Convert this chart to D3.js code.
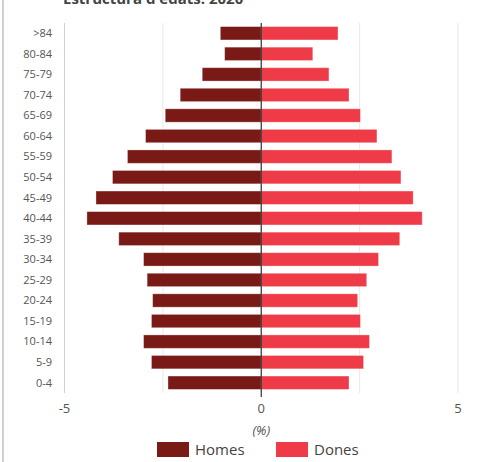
<!DOCTYPE html>
<html><head><meta charset="utf-8">
<script src="https://cdn.jsdelivr.net/npm/d3@7"></script>
<style>
body{margin:0;background:#fff;}
svg{display:block;font-family:"Open Sans",sans-serif;}
</style></head>
<body><svg id="c" width="485" height="462"></svg>
<script>
const categories = [">84","80-84","75-79","70-74","65-69","60-64","55-59","50-54","45-49","40-44","35-39","30-34","25-29","20-24","15-19","10-14","5-9","0-4"];
const homes = [1.04,0.93,1.50,2.06,2.44,2.94,3.40,3.78,4.20,4.43,3.62,2.99,2.90,2.76,2.79,2.99,2.79,2.37];
const dones = [1.95,1.31,1.72,2.23,2.52,2.94,3.32,3.55,3.86,4.09,3.52,2.98,2.68,2.45,2.52,2.75,2.60,2.23];
const xTicks = [-5,0,5];
const gridTicks = [-5,-2.5,0,2.5,5];
const seriesNames = ["Homes","Dones"];
const colors = ["#7a1a16","#ef3b47"];
const title = "Estructura d'edats. 2020";
const axisTitle = "(%)";

const svg = d3.select("#c");
const x = d3.scaleLinear().domain([-5,5]).range([64.5,458]);
const y = d3.scaleBand().domain(categories).range([23,393]).paddingInner(0.35).paddingOuter(0.175);

// left card border
svg.append("line").attr("x1",3).attr("x2",3).attr("y1",0).attr("y2",462).attr("stroke","#d0d0d0").attr("stroke-width",2);

// title (cut off at top, as in the reference)
svg.append("text").attr("x",63).attr("y",4).attr("font-size",15).attr("font-weight","bold").attr("fill","#444").text(title);

// gridlines
svg.append("g").selectAll("line").data(gridTicks).join("line")
  .attr("x1",d=>x(d)).attr("x2",d=>x(d)).attr("y1",23).attr("y2",393)
  .attr("stroke",d=>d===-5?"#d0d0d0":"#e8e8e8").attr("stroke-width",1);

// bars
const g = svg.append("g");
g.selectAll("rect.h").data(categories).join("rect").attr("class","h")
  .attr("x",(d,i)=>x(-homes[i])).attr("width",(d,i)=>x(0)-x(-homes[i]))
  .attr("y",d=>y(d)).attr("height",y.bandwidth())
  .attr("fill",colors[0]).attr("stroke","#fff").attr("stroke-opacity",0.4).attr("stroke-width",0.8);
g.selectAll("rect.d").data(categories).join("rect").attr("class","d")
  .attr("x",x(0)).attr("width",(d,i)=>x(dones[i])-x(0))
  .attr("y",d=>y(d)).attr("height",y.bandwidth())
  .attr("fill",colors[1]).attr("stroke","#fff").attr("stroke-opacity",0.4).attr("stroke-width",0.8);

// zero line
svg.append("line").attr("x1",x(0)).attr("x2",x(0)).attr("y1",23).attr("y2",397).attr("stroke","#333").attr("stroke-width",1.2);

// y labels
svg.append("g").selectAll("text").data(categories).join("text")
  .attr("x",52).attr("y",d=>y(d)+y.bandwidth()/2).attr("dy","0.35em")
  .attr("text-anchor","end").attr("font-size",11).attr("fill","#555").text(d=>d);

// x tick labels
svg.append("g").selectAll("text").data(xTicks).join("text")
  .attr("x",d=>x(d)).attr("y",413).attr("text-anchor","middle")
  .attr("font-size",13).attr("fill","#555").text(d=>d);

// axis title
svg.append("text").attr("x",x(0)).attr("y",435).attr("text-anchor","middle")
  .attr("font-size",13).attr("font-style","italic").attr("fill","#555").text(axisTitle);

// legend
const lg = svg.append("g");
const lx = [157,276];
seriesNames.forEach((n,i)=>{
  lg.append("rect").attr("x",lx[i]).attr("y",442).attr("width",32).attr("height",15).attr("fill",colors[i]);
  lg.append("text").attr("x",lx[i]+38).attr("y",455).attr("font-size",15).attr("fill","#444").text(n);
});
</script></body></html>
